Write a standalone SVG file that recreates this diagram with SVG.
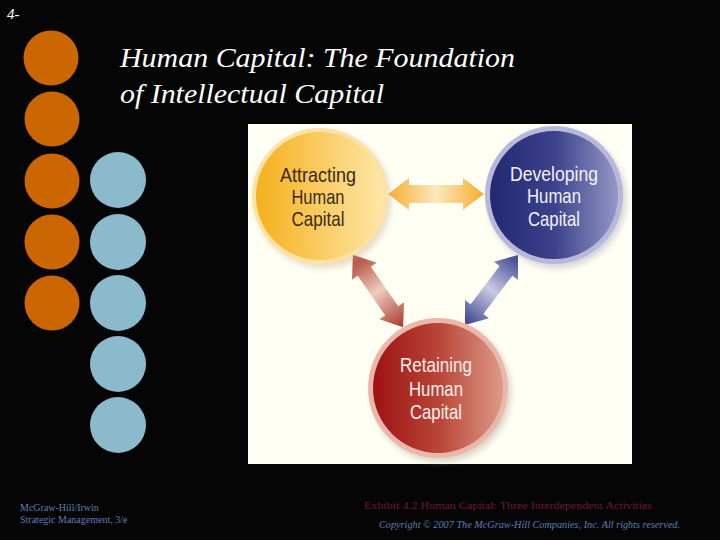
<svg xmlns="http://www.w3.org/2000/svg" width="720" height="540" viewBox="0 0 720 540">
<style>
.or{fill:#CC6600}
.bl{fill:#8BBACD}
.title{font-family:"Liberation Serif",serif;font-style:italic;fill:#FFFFFF;font-size:27px}
.lbl{font-family:"Liberation Sans Narrow","Liberation Sans",sans-serif;font-size:21px;text-anchor:middle}
.foot{font-family:"Liberation Serif",serif;font-size:10px;fill:#5B80B6}
</style>
<defs>
<linearGradient id="gA" x1="0" y1="0" x2="1" y2="0"><stop offset="0" stop-color="#F5B01C"/><stop offset="1" stop-color="#FDE7A8"/></linearGradient>
<linearGradient id="gD" x1="0" y1="0" x2="1" y2="0"><stop offset="0" stop-color="#232872"/><stop offset="0.5" stop-color="#3C418A"/><stop offset="1" stop-color="#9497C6"/></linearGradient>
<linearGradient id="gR" x1="0" y1="0" x2="1" y2="0"><stop offset="0" stop-color="#9E1212"/><stop offset="0.5" stop-color="#B84436"/><stop offset="1" stop-color="#DE9A88"/></linearGradient>
<linearGradient id="aY" x1="0" y1="0" x2="1" y2="0"><stop offset="0" stop-color="#F5AE2E"/><stop offset="0.5" stop-color="#FCE8C0"/><stop offset="1" stop-color="#F5AE2E"/></linearGradient>
<linearGradient id="aR" x1="0" y1="0" x2="1" y2="0"><stop offset="0" stop-color="#A9382A"/><stop offset="0.5" stop-color="#EECCC0"/><stop offset="1" stop-color="#A9382A"/></linearGradient>
<linearGradient id="aB" x1="0" y1="0" x2="1" y2="0"><stop offset="0" stop-color="#363E8C"/><stop offset="0.5" stop-color="#CACBE2"/><stop offset="1" stop-color="#363E8C"/></linearGradient>
<filter id="sh" x="-20%" y="-20%" width="140%" height="140%"><feGaussianBlur stdDeviation="3"/></filter>
</defs>
<rect width="720" height="540" fill="#050505"/>
<text x="7" y="19" style="font-family:'Liberation Serif',serif;font-style:italic;font-size:15px;fill:#FFFFFF">4-</text>
<g id="dots">
<circle class="or" cx="51" cy="58" r="27.5"/>
<circle class="or" cx="52" cy="119" r="27.5"/>
<circle class="or" cx="52" cy="181" r="27.5"/>
<circle class="or" cx="52" cy="242" r="27.5"/>
<circle class="or" cx="52" cy="303" r="27.5"/>
<circle class="bl" cx="118" cy="180" r="28"/>
<circle class="bl" cx="118" cy="242" r="28"/>
<circle class="bl" cx="118" cy="303" r="28"/>
<circle class="bl" cx="118" cy="364" r="28"/>
<circle class="bl" cx="118" cy="425" r="28"/>
</g>
<text class="title" x="120" y="67" textLength="395" lengthAdjust="spacingAndGlyphs">Human Capital: The Foundation</text>
<text class="title" x="120" y="103" textLength="264" lengthAdjust="spacingAndGlyphs">of Intellectual Capital</text>
<rect x="248" y="124" width="384" height="340" fill="#FFFFF4"/>
<g id="connectors">
<polygon transform="translate(436,194)" fill="url(#aY)" points="-48,0 -27,-16 -27,-9 27,-9 27,-16 48,0 27,16 27,9 -27,9 -27,16"/>
<polygon transform="translate(378,291) rotate(55.2)" fill="url(#aR)" points="-44,0 -24,-15 -24,-8 24,-8 24,-15 44,0 24,15 24,8 -24,8 -24,15"/>
<polygon transform="translate(491.5,290) rotate(-52.9)" fill="url(#aB)" points="-44,0 -24,-15 -24,-8 24,-8 24,-15 44,0 24,15 24,8 -24,8 -24,15"/>
</g>
<g id="attracting">
<circle cx="323" cy="200" r="68" fill="#C8B89A" opacity="0.5" filter="url(#sh)"/>
<circle cx="320" cy="196" r="68" fill="#FCE2A4"/>
<circle cx="320" cy="196" r="64" fill="url(#gA)"/>
<text class="lbl" fill="#3A2A12" x="318" y="182" textLength="76" lengthAdjust="spacingAndGlyphs">Attracting</text>
<text class="lbl" fill="#3A2A12" x="318" y="204" textLength="53" lengthAdjust="spacingAndGlyphs">Human</text>
<text class="lbl" fill="#3A2A12" x="318" y="226" textLength="53" lengthAdjust="spacingAndGlyphs">Capital</text>
</g>
<g id="developing">
<circle cx="557" cy="199" r="69" fill="#A8A8B8" opacity="0.5" filter="url(#sh)"/>
<circle cx="554" cy="195" r="69" fill="#B8B9DA"/>
<circle cx="554" cy="195" r="64" fill="url(#gD)"/>
<text class="lbl" fill="#F2F2F8" x="554" y="181" textLength="88" lengthAdjust="spacingAndGlyphs">Developing</text>
<text class="lbl" fill="#F2F2F8" x="554" y="203" textLength="54" lengthAdjust="spacingAndGlyphs">Human</text>
<text class="lbl" fill="#F2F2F8" x="554" y="226" textLength="52" lengthAdjust="spacingAndGlyphs">Capital</text>
</g>
<g id="retaining">
<circle cx="441" cy="392" r="70" fill="#B8A8A0" opacity="0.5" filter="url(#sh)"/>
<circle cx="438" cy="388" r="70" fill="#E9B8AA"/>
<circle cx="438" cy="388" r="65" fill="url(#gR)"/>
<text class="lbl" fill="#FBF0EC" x="436" y="372" textLength="72" lengthAdjust="spacingAndGlyphs">Retaining</text>
<text class="lbl" fill="#FBF0EC" x="436" y="396" textLength="54" lengthAdjust="spacingAndGlyphs">Human</text>
<text class="lbl" fill="#FBF0EC" x="436" y="419" textLength="52" lengthAdjust="spacingAndGlyphs">Capital</text>
</g>
<text class="foot" x="20" y="511">McGraw-Hill/Irwin</text>
<text class="foot" x="20" y="523">Strategic Management, 3/e</text>
<text x="364" y="509" textLength="288" lengthAdjust="spacingAndGlyphs" style="font-family:'Liberation Serif',serif;font-size:11px;fill:#6E1A30">Exhibit 4.2 Human Capital: Three Interdependent Activities</text>
<text x="379" y="528" textLength="301" lengthAdjust="spacingAndGlyphs" style="font-family:'Liberation Serif',serif;font-style:italic;font-size:10px;fill:#5B80B6">Copyright © 2007  The McGraw-Hill Companies, Inc. All rights reserved.</text>
</svg>
